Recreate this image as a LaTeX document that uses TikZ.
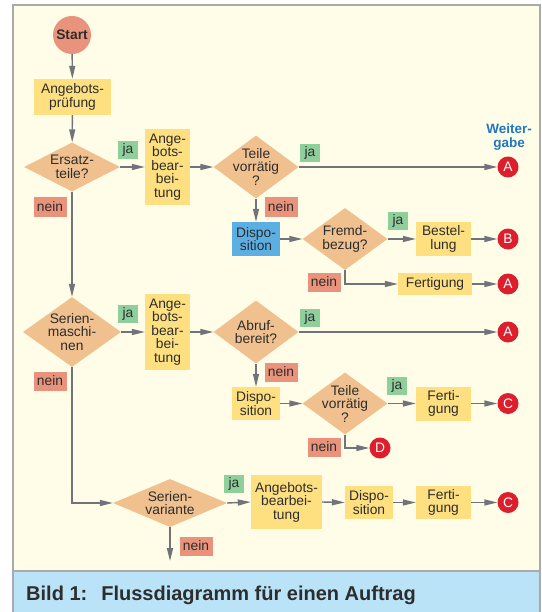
\documentclass[tikz,border=0pt]{standalone}
\usepackage{fontspec}
\setmainfont{Liberation Sans}
\usetikzlibrary{shapes.geometric,arrows.meta}

\definecolor{paper}{RGB}{255,253,231}
\definecolor{framegray}{RGB}{170,170,172}
\definecolor{boxyellow}{RGB}{255,224,128}
\definecolor{decorange}{RGB}{240,192,142}
\definecolor{salmon}{RGB}{233,147,124}
\definecolor{jagreen}{RGB}{143,207,156}
\definecolor{dispblue}{RGB}{92,175,226}
\definecolor{connred}{RGB}{220,30,45}
\definecolor{titleblue}{RGB}{30,120,195}
\definecolor{linegray}{RGB}{112,115,122}
\definecolor{inkgray}{RGB}{45,45,45}
\definecolor{capblue}{RGB}{186,227,248}

\tikzset{
  procbox/.style={rectangle, fill=boxyellow, inner sep=0pt, align=center, text=inkgray},
  dispbox/.style={procbox, fill=dispblue},
  decbox/.style={diamond, fill=decorange, inner sep=0pt},
  dectext/.style={align=center, text=inkgray, inner sep=0pt},
  connpt/.style={circle, fill=connred, text=white, minimum size=21pt, inner sep=0pt},
  startpt/.style={circle, fill=salmon, text=inkgray, minimum size=38pt, inner sep=0pt, font=\fontsize{13.8}{14}\selectfont\bfseries},
  jalabel/.style={fill=jagreen, minimum width=20pt, minimum height=18pt, inner sep=0pt, text=inkgray},
  neinlabel/.style={fill=salmon, minimum width=33pt, minimum height=19pt, inner sep=0pt, text=inkgray},
  flow/.style={draw=linegray, line width=1.4pt, -{Triangle[length=13pt,width=6pt]}}
}

\begin{document}
\begin{tikzpicture}[x=1pt, y=-1pt, font=\fontsize{13.8}{13.5}\selectfont]
\useasboundingbox (0,0) rectangle (541,612);

% background, frame and caption band
\fill[white] (0,0) rectangle (541,612);
\fill[paper] (13,5.5) rectangle (539.5,571);
\fill[capblue] (13,571) rectangle (539.5,612);
\draw[framegray, line width=2pt] (13,612) -- (13,5.5) -- (539.5,5.5) -- (539.5,612);
\draw[framegray, line width=2pt] (13,571) -- (539.5,571);
\node[anchor=base west, font=\fontsize{20}{24}\selectfont\bfseries, text=inkgray, inner sep=0pt] (cap) at (26,600)
  {Bild 1:\hspace*{14pt}Flussdiagramm für einen Auftrag};

% header of the connector column
\node[font=\fontsize{13.5}{14}\selectfont\bfseries, text=titleblue, align=center, inner sep=0pt] (wg) at (509,137) {Weiter-\\gabe};

% first row
\node[startpt] (start) at (72,35) {Start};
\node[procbox, minimum width=77pt, minimum height=36pt] (ap) at (72.5,97) {Angebots-\\prüfung};
\node[decbox, minimum width=96pt, minimum height=49pt, label={[dectext]center:{Ersatz-\\teile?}}] (et) at (72,167) {};
\node[procbox, minimum width=45pt, minimum height=76pt] (ab1) at (167.5,167) {Ange-\\bots-\\bear-\\bei-\\tung};
\node[decbox, minimum width=85pt, minimum height=63pt, label={[dectext]center:{Teile\\vorrätig\\?}}] (tv1) at (256,167) {};
\node[connpt] (a1) at (508,167) {A};

\node[dispbox, minimum width=48pt, minimum height=34pt] (disp1) at (256,239) {Dispo-\\sition};
\node[decbox, minimum width=85pt, minimum height=62pt, label={[dectext]center:{Fremd-\\bezug?}}] (fb) at (345,239) {};
\node[procbox, minimum width=55pt, minimum height=34pt] (best) at (443.5,239) {Bestel-\\lung};
\node[connpt] (b1) at (508,239) {B};
\node[procbox, minimum width=74pt, minimum height=22pt] (fert1) at (435,284) {Fertigung};
\node[connpt] (a2) at (508,284) {A};

% second row
\node[decbox, minimum width=98pt, minimum height=70pt, label={[dectext]center:{Serien-\\maschi-\\nen}}] (sm) at (72,332) {};
\node[procbox, minimum width=45pt, minimum height=76pt] (ab2) at (167.5,332) {Ange-\\bots-\\bear-\\bei-\\tung};
\node[decbox, minimum width=85pt, minimum height=63pt, label={[dectext]center:{Abruf-\\bereit?}}] (abr) at (256,332) {};
\node[connpt] (a3) at (508,332) {A};

\node[procbox, minimum width=48pt, minimum height=33pt] (disp2) at (256,403.5) {Dispo-\\sition};
\node[decbox, minimum width=85pt, minimum height=62pt, label={[dectext]center:{Teile\\vorrätig\\?}}] (tv2) at (345,403.5) {};
\node[procbox, minimum width=55pt, minimum height=34pt] (fert2) at (443.5,403.5) {Ferti-\\gung};
\node[connpt] (c1) at (508,403.5) {C};
\node[connpt] (d1) at (380,448) {D};

% third row
\node[decbox, minimum width=114pt, minimum height=48pt, label={[dectext]center:{Serien-\\variante}}] (sv) at (170,503) {};
\node[procbox, minimum width=71pt, minimum height=54pt] (ab3) at (286.5,502) {Angebots-\\bearbei-\\tung};
\node[procbox, minimum width=48pt, minimum height=33pt] (disp3) at (369,502.5) {Dispo-\\sition};
\node[procbox, minimum width=55pt, minimum height=33pt] (fert3) at (443.5,502.5) {Ferti-\\gung};
\node[connpt] (c2) at (508,502.5) {C};
\coordinate (svend) at (170,561);

% ja / nein tags
\node[jalabel] (j1) at (128,150) {ja};
\node[neinlabel] (n1) at (50,207) {nein};
\node[jalabel] (j2) at (310,153) {ja};
\node[neinlabel] (n2) at (281,207) {nein};
\node[jalabel] (j3) at (398,221) {ja};
\node[neinlabel] (n3) at (324,282) {nein};
\node[jalabel] (j4) at (128,314) {ja};
\node[neinlabel] (n4) at (50,381) {nein};
\node[jalabel] (j5) at (310,318) {ja};
\node[neinlabel] (n5) at (281,372) {nein};
\node[jalabel] (j6) at (397,386) {ja};
\node[neinlabel] (n6) at (324,447) {nein};
\node[jalabel] (j7) at (234,484) {ja};
\node[neinlabel] (n7) at (196,546) {nein};

% connectors
\draw[flow] (start) -- (ap);
\draw[flow] (ap) -- (et);
\draw[flow] (et.east) -- (ab1.west);
\draw[flow] (ab1.east) -- (tv1.west);
\draw[flow] (tv1.east) -- (a1.west);
\draw[flow] (tv1.south) -- (disp1.north);
\draw[flow] (disp1.east) -- (fb.west);
\draw[flow] (fb.east) -- (best.west);
\draw[flow] (best.east) -- (b1.west);
\draw[flow] (fb.south) |- (fert1.west);
\draw[flow] (fert1.east) -- (a2.west);
\draw[flow] (et.south) -- (sm.north);
\draw[flow] (sm.east) -- (ab2.west);
\draw[flow] (ab2.east) -- (abr.west);
\draw[flow] (abr.east) -- (a3.west);
\draw[flow] (abr.south) -- (disp2.north);
\draw[flow] (disp2.east) -- (tv2.west);
\draw[flow] (tv2.east) -- (fert2.west);
\draw[flow] (fert2.east) -- (c1.west);
\draw[flow] (tv2.south) |- (d1.west);
\draw[flow] (sm.south) |- (sv.west);
\draw[flow] (sv.east) -- (ab3.west);
\draw[flow] (ab3.east) -- (disp3.west);
\draw[flow] (disp3.east) -- (fert3.west);
\draw[flow] (fert3.east) -- (c2.west);
\draw[flow] (sv.south) -- (svend);
\end{tikzpicture}
\end{document}
